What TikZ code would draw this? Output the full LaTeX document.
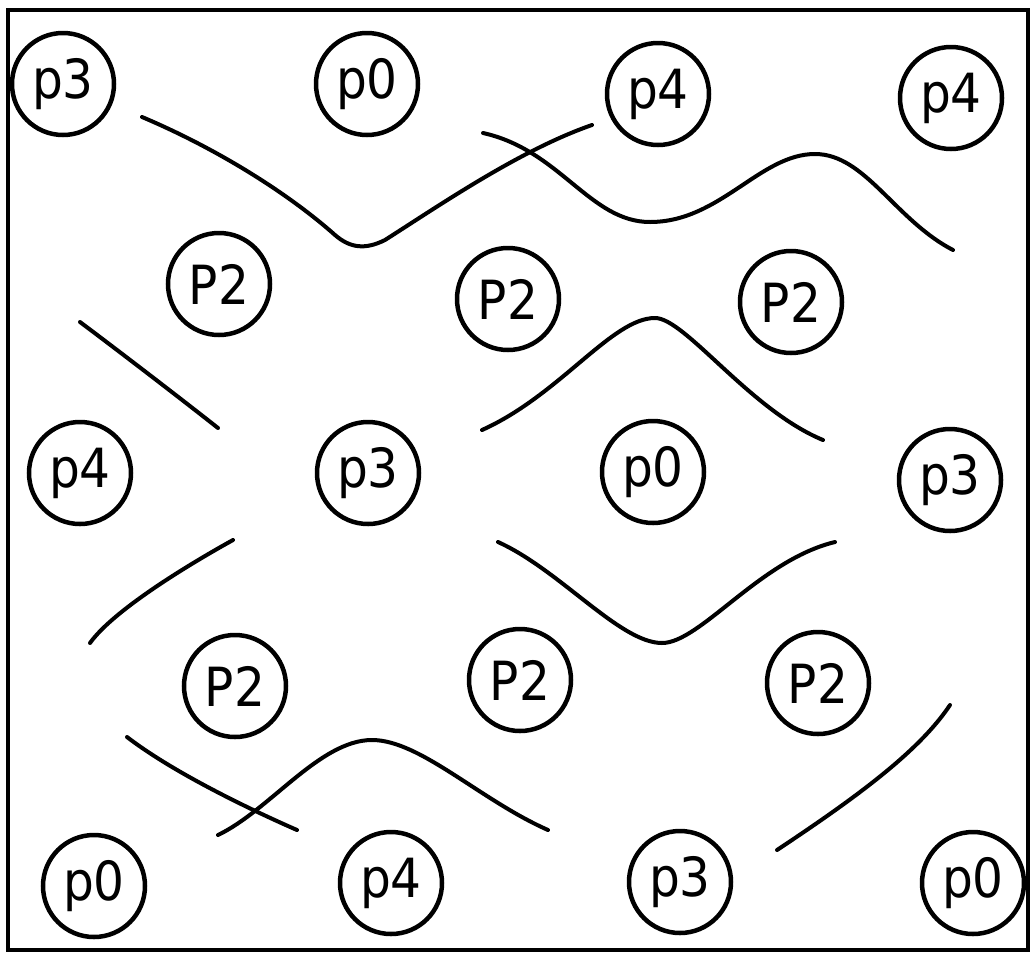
\documentclass[tikz,border=0pt]{standalone}
\usepackage{fontspec}
\setmainfont{DejaVu Sans Condensed}
\begin{document}
\begin{tikzpicture}[x=1pt,y=-1pt,
  site/.style={draw, circle, line width=4.5pt, minimum size=102pt, inner sep=0pt,
    font=\fontsize{54}{54}\selectfont},
  wave/.style={line width=4pt, line cap=round, line join=round}]
\useasboundingbox (0,0) rectangle (1031,954);
\draw[line width=4.5pt] (8,10) rectangle (1028,950);
% row 1
\node[site] (a1) at (63,84) {p3};
\node[site] (a2) at (367,84) {p0};
\node[site] (a3) at (658,94) {p4};
\node[site] (a4) at (951,98) {p4};
% row 2
\node[site] (b1) at (219,284) {P2};
\node[site] (b2) at (508,299) {P2};
\node[site] (b3) at (791,302) {P2};
% row 3
\node[site] (c1) at (80,473) {p4};
\node[site] (c2) at (368,473) {p3};
\node[site] (c3) at (653,472) {p0};
\node[site] (c4) at (950,480) {p3};
% row 4
\node[site] (d1) at (235,686) {P2};
\node[site] (d2) at (520,680) {P2};
\node[site] (d3) at (818,683) {P2};
% row 5
\node[site] (e1) at (94,886) {p0};
\node[site] (e2) at (391,883) {p4};
\node[site] (e3) at (680,882) {p3};
\node[site] (e4) at (973,883) {p0};
% curves
\draw[wave] (142,117) .. controls (220,150) and (290,195) .. (335,235)
  .. controls (350,248) and (365,250) .. (385,240)
  .. controls (440,205) and (520,150) .. (592,125);
\draw[wave] (483,133) .. controls (560,150) and (590,222) .. (650,222)
  .. controls (720,222) and (760,154) .. (815,154)
  .. controls (865,154) and (895,220) .. (953,250);
\draw[wave] (80,322) .. controls (120,352) and (180,398) .. (218,428);
\draw[wave] (482,430) .. controls (560,395) and (612,318) .. (655,318)
  .. controls (685,318) and (750,410) .. (823,440);
\draw[wave] (90,643) .. controls (110,615) and (170,575) .. (233,540);
\draw[wave] (127,737) .. controls (170,770) and (240,805) .. (297,830);
\draw[wave] (218,835) .. controls (270,810) and (320,740) .. (372,740)
  .. controls (420,740) and (480,800) .. (548,830);
\draw[wave] (498,542) .. controls (560,570) and (620,643) .. (662,643)
  .. controls (700,643) and (760,560) .. (835,542);
\draw[wave] (950,705) .. controls (920,750) and (860,795) .. (777,850);
\end{tikzpicture}
\end{document}
